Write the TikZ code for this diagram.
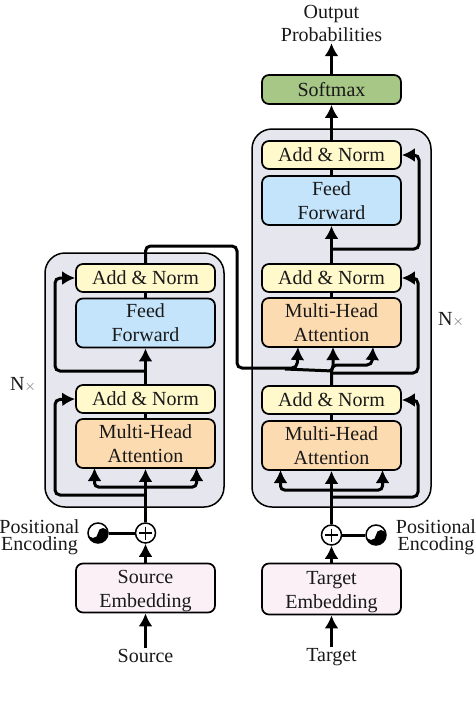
\documentclass[tikz,border=0pt]{standalone}
\usepackage{fontspec}
\setmainfont{Liberation Serif}
\usetikzlibrary{calc,arrows.meta}
\tikzset{
    box/.style={draw,line width=1.7,rounded corners=7,minimum width=139,align=center,inner sep=0,font=\fontsize{20}{24}\selectfont,text=black!90},
    addnorm/.style={box,fill=normyellow,minimum height=28},
    tall/.style={box,minimum height=49},
    embed/.style={tall,fill=embpink},
    panel/.style={draw,line width=1.5,rounded corners=20,fill=panelgray},
    lab/.style={inner sep=1,align=center,font=\fontsize{20}{23.5}\selectfont,text=black!90},
    pelab/.style={lab,font=\fontsize{20}{17.5}\selectfont},
    conn/.style={-{Latex[length=13pt,width=14pt]},line width=3},
    wire/.style={line width=3},
    plus/.style={circle,draw,fill=white,line width=1.5,minimum size=20,inner sep=0,path picture={
        \draw[line width=1.5] (path picture bounding box.center) ++(-6.5,0) -- ++(13,0)
        (path picture bounding box.center) ++(0,-6.5) -- ++(0,13);}},
    yin/.style={circle,draw,fill=white,line width=1.5,minimum size=20,inner sep=0,path picture={
        \fill[black] (path picture bounding box.center) ++(-10,0) arc[start angle=180,end angle=0,radius=10]
        arc[start angle=0,end angle=-180,radius=5] arc[start angle=0,end angle=180,radius=5];}}
}
\newcommand{\Ntimes}{N{\fontsize{14}{14}\selectfont\color{black!60}$\times$}}
\newcommand{\lowstrut}{\rule{0pt}{20pt}}
\definecolor{ffblue}{HTML}{C3E4FA}
\definecolor{mhaorange}{HTML}{FDDBB0}
\definecolor{softgreen}{HTML}{A6C785}
\definecolor{embpink}{HTML}{FAF0F6}
\definecolor{panelgray}{HTML}{E6E6EE}
\definecolor{normyellow}{HTML}{FFF9CC}
\begin{document}
\begin{tikzpicture}[x=1pt,y=-1pt]
            \useasboundingbox (0,0) rectangle (476,702);

            \node[panel,minimum width=179,minimum height=254] (lpanel) at (134.5,380) {};
            \node[panel,minimum width=179,minimum height=378] (rpanel) at (341.5,318) {};

            % encoder
            \node[addnorm] (lan2) at (145.5,278) {Add \& Norm};
            \node[tall,fill=ffblue] (lff) at (145.5,323) {Feed\\Forward};
            \node[addnorm] (lan1) at (145.5,399) {Add \& Norm};
            \node[tall,fill=mhaorange] (lmha) at (145.5,443.5) {Multi-Head\\Attention};
            \node[embed] (lemb) at (145.5,588) {\lowstrut Source\\Embedding};
            \node[plus] (lplus) at (145.5,533) {};
            \node[yin] (lyin) at (98,533) {};
            \node[pelab] (lpos) at (39.5,537) {Positional\\Encoding};
            \node[lab] (src) at (145.5,656) {Source};
            \node[lab] (lnx) at (23,385) {\Ntimes};

            % decoder
            \node[box,fill=softgreen,minimum height=29] (soft) at (331.5,89.5) {Softmax};
            \node[addnorm] (ran3) at (331.5,155) {Add \& Norm};
            \node[tall,fill=ffblue] (rff) at (331.5,200.5) {Feed\\Forward};
            \node[addnorm] (ran2) at (331.5,278) {Add \& Norm};
            \node[tall,fill=mhaorange] (rmha2) at (331.5,322.5) {Multi-Head\\Attention};
            \node[addnorm] (ran1) at (331.5,400) {Add \& Norm};
            \node[tall,fill=mhaorange] (rmha1) at (331.5,445.5) {Multi-Head\\Attention};
            \node[embed,minimum height=51] (remb) at (331.5,589) {\lowstrut Target\\Embedding};
            \node[plus] (rplus) at (331.5,535) {};
            \node[yin] (ryin) at (376,535) {};
            \node[pelab] (rpos) at (436,537) {Positional\\Encoding};
            \node[lab] (tgt) at (331.5,657) {Target};
            \node[lab] (rnx) at (451,320) {\Ntimes};
            \node[lab] (out) at (331.5,23.5) {Output\\Probabilities};

            % junctions on the encoder side
            \coordinate (lj1) at (145.5,495);
            \coordinate (lj2) at (145.5,487);
            \coordinate (lj3) at (145.5,371);
            \coordinate (la) at (94.5,468);
            \coordinate (lb) at (196.5,468);
            % junctions on the decoder side
            \coordinate (rj1) at (331.5,497);
            \coordinate (rj2) at (331.5,490);
            \coordinate (rj3) at (331.5,373);
            \coordinate (rj4) at (331.5,249);
            \coordinate (ra) at (280.5,470);
            \coordinate (rb) at (382.5,470);
            \coordinate (ma) at (298,347);
            \coordinate (mb) at (333,347);
            \coordinate (mc) at (373,347);

            \path[wire]
            (lff) edge (lan2)
            (lmha) edge (lan1)
            (rff) edge (ran3)
            (rmha1) edge (ran1)
            (rmha2) edge (ran2)
            (lyin) edge (lplus)
            (ryin) edge (rplus);
            \path[conn]
            (src.north) edge (lemb)
            (tgt.north) edge (remb)
            (lemb) edge (lplus)
            (remb) edge (rplus)
            (lplus) edge (lmha)
            (rplus) edge (rmha1)
            (lan1) edge (lff)
            (ran2) edge (rff)
            (ran3) edge (soft)
            (soft) edge (out.south);

            \draw[conn,rounded corners=5] (lj1) -- (55,495) -- (55,399.5) -- (lan1.west);
            \draw[conn,rounded corners=5] (lj3) -- (55,371) -- (55,278) -- (lan2.west);
            \draw[conn,rounded corners=4] (lj2) -- (94.5,487) -- (la);
            \draw[conn,rounded corners=4] (lj2) -- (196.5,487) -- (lb);

            \draw[conn,rounded corners=5] (rj1) -- (418,497) -- (418,400) -- (ran1.east);
            \draw[conn,rounded corners=5] (rj3) -- (418,373) -- (418,278) -- (ran2.east);
            \draw[conn,rounded corners=5] (rj4) -- (419,249) -- (419,155) -- (ran3.east);
            \draw[conn,rounded corners=4] (rj2) -- (280.5,490) -- (ra);
            \draw[conn,rounded corners=4] (rj2) -- (382.5,490) -- (rb);

            \draw[conn,rounded corners=5] (lan2.north) -- (145.5,246) -- (237,246) -- (237,368) -- (297,368) -- (ma);
            \draw[conn,rounded corners=4] (285,369) -- (333,371) -- (mb);
            \draw[conn,rounded corners=5] (ran1.north) -- (331.5,365) -- (372,365) -- (mc);
\end{tikzpicture}
\end{document}
